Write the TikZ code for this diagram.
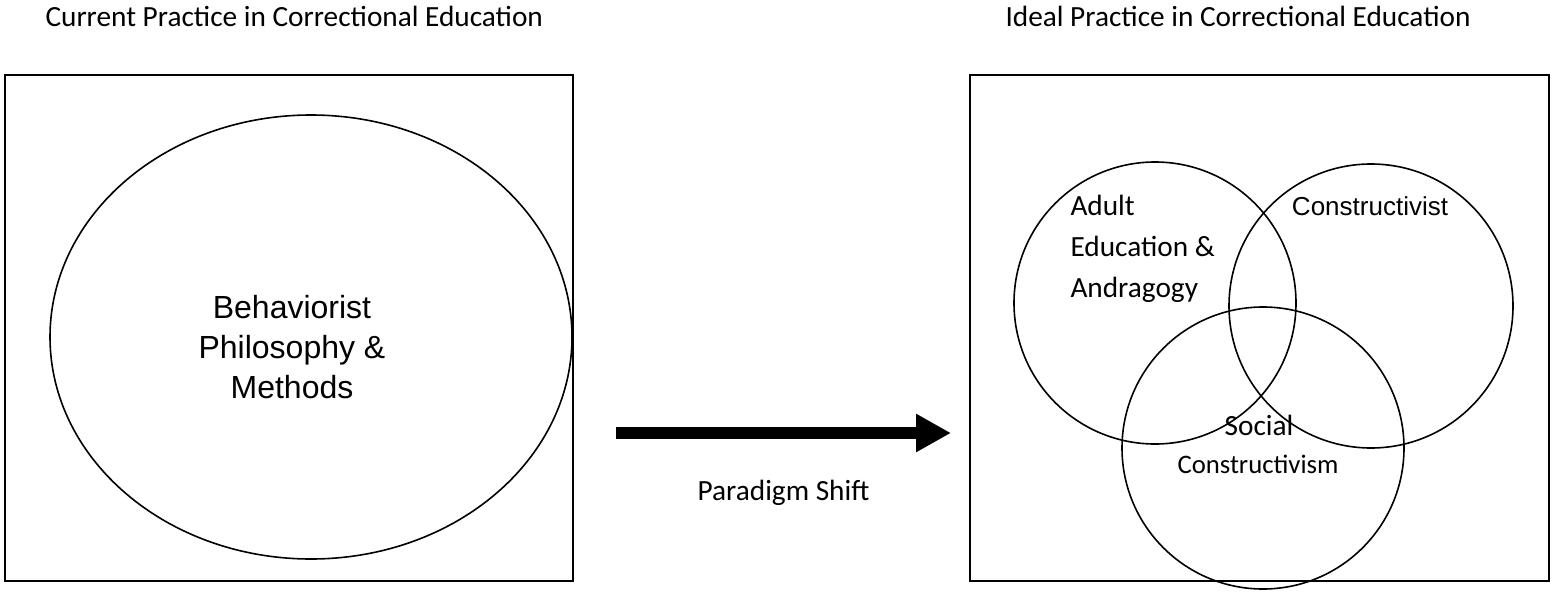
\documentclass[tikz,border=0pt]{standalone}
\usepackage{fontspec}
\setmainfont{Carlito}
\newfontfamily\arialfont{Liberation Sans}
\usepackage{tikz}
\usetikzlibrary{arrows.meta,calc,positioning}

\begin{document}
\begin{tikzpicture}[x=1pt, y=-1pt, line width=1pt,
  title/.style={font=\fontsize{29.3}{35}\selectfont, anchor=base west, inner sep=0pt},
  frame/.style={draw=black, line width=1.6pt},
  lens/.style={draw=black, line width=1.6pt},
  label/.style={anchor=base, inner sep=0pt},
  venntext/.style={font=\fontsize{29.3}{41}\selectfont, align=left, inner sep=0pt}]

\useasboundingbox (0,0) rectangle (1553,592);

% ---- Left panel: current practice ----
\node[title] (curtitle) at (45, 26) {Current Practice in Correctional Education};
\draw[frame] (5,75) rectangle (573,581);
\draw[lens] (311,337) ellipse [x radius=261, y radius=222];
% base anchor sits on the last line here
\node[label, font=\arialfont\fontsize{32}{40}\selectfont, align=center] (behav)
  at (292,398) {Behaviorist\\Philosophy \&\\Methods};

% ---- Paradigm shift arrow ----
\coordinate (from) at (616,433);
\coordinate (to) at (951,433);
\draw[-{Triangle[length=35pt, width=36pt]}, line width=12pt] (from) -- (to);
\node[label, font=\fontsize{29.3}{35}\selectfont] (shift)
  at ($(from)!0.5!(to)+(0,67)$) {Paradigm Shift};

% ---- Right panel: ideal practice ----
\node[title] (idtitle) at (1005, 26) {Ideal Practice in Correctional Education};
\draw[frame] (970,75) rectangle (1549,581);

% three overlapping circles
\draw[lens] (1155,303) circle (141);
\draw[lens] (1371,306) circle (142);
\draw[lens] (1263,448) circle (141);

\node[venntext, anchor=base west] (adult) at (1070,297)
  {Adult\\Education \&\\Andragogy};
\node[label, font=\arialfont\fontsize{26}{31}\selectfont] (constr)
  at (1370,215) {Constructivist};
\node[label, font=\fontsize{29.3}{35}\selectfont] (social) at (1259,435) {Social};
\node[label, font=\fontsize{26.7}{32}\selectfont] (socconstr)
  at (1258,473) {Constructivism};

\end{tikzpicture}
\end{document}
